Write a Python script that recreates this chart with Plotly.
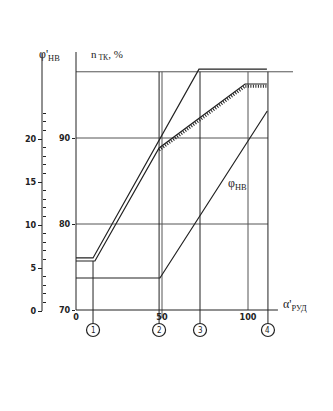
import plotly.graph_objects as go

# ---------------- data ----------------
# throttle lever angle alpha'_RUD, degrees
curveA_alpha = [0, 9.9, 71.5, 111.0]          # n_TK, upper line of the double curve
curveA_n = [76.05, 76.05, 98.0, 98.0]
curveB_alpha = [0, 11.0, 48.3, 98.3, 111.0]   # n_TK, lower (hatched) line
curveB_n = [75.7, 75.7, 88.84, 96.28, 96.28]
hatch_start = 2                               # hatching starts at the bend
phi_alpha = [0, 48.8, 111.2]                  # phi_NV curve (left axis)
phi_vals = [3.84, 3.84, 23.26]

x_ticks = [0, 50, 100]
n_ticks = [70, 80, 90]
phi_major = [0, 5, 10, 15, 20]
phi_minor = [v for v in range(1, 24) if v % 5 != 0]

grid_n = [80, 90]            # horizontal grid levels
top_n = 97.7                 # top horizontal line
marker_alpha = [9.9, 48.3, 72.1, 111.6]   # regimes 1..4
marker_labels = ["1", "2", "3", "4"]
marker_start_n = [75.7, top_n, top_n, top_n]
grid_alpha = [50, 100]       # extra vertical grid lines
x_max, n_max, phi_max = 117.4, 100.0, 30.0

# ---------------- layout geometry ----------------
W, H = 333, 411
px_x0, px_per_a = 76.0, 1.72       # alpha = 0 at pixel 76
px_y70, px_per_n = 310.0, 8.6      # n = 70 at pixel 310
px_phi0 = 311.0

def a_at(px):
    return (px - px_x0) / px_per_a

def n_at(py):
    return 70 + (px_y70 - py) / px_per_n

def phi_at(py):
    return (px_phi0 - py) / px_per_n

ink = "#222222"
grid_col = "#555555"
circle_n = n_at(330)
circle_top = n_at(324)
narrow = "Liberation Sans Narrow, DejaVu Sans Condensed, Liberation Sans"

fig = go.Figure()

# grid / reference lines
for lvl in grid_n:
    fig.add_trace(go.Scatter(x=[0, marker_alpha[-1]], y=[lvl, lvl], mode="lines",
                             line=dict(color=grid_col, width=1), hoverinfo="skip", showlegend=False))
fig.add_trace(go.Scatter(x=[0, a_at(293)], y=[top_n, top_n], mode="lines",
                         line=dict(color=grid_col, width=1), hoverinfo="skip", showlegend=False))
for ga in grid_alpha:
    fig.add_trace(go.Scatter(x=[ga, ga], y=[top_n, 70 if ga == 100 else n_at(318)], mode="lines",
                             line=dict(color=grid_col, width=1), hoverinfo="skip", showlegend=False))
for ma, ms in zip(marker_alpha, marker_start_n):
    fig.add_trace(go.Scatter(x=[ma, ma], y=[ms, circle_top], mode="lines",
                             line=dict(color=ink, width=1), hoverinfo="skip", showlegend=False))

# axes lines
fig.add_trace(go.Scatter(x=[0, 0], y=[70, n_max], mode="lines",
                         line=dict(color=ink, width=1), hoverinfo="skip", showlegend=False))
fig.add_trace(go.Scatter(x=[0, x_max], y=[70, 70], mode="lines",
                         line=dict(color=ink, width=1), hoverinfo="skip", showlegend=False))
fig.add_shape(type="line", xref="paper", yref="y2", x0=42 / W, x1=42 / W, y0=0, y1=phi_max,
              line=dict(color=ink, width=1))

# curves
fig.add_trace(go.Scatter(x=curveA_alpha, y=curveA_n, mode="lines",
                         line=dict(color=ink, width=1.2), showlegend=False))
fig.add_trace(go.Scatter(x=curveB_alpha, y=curveB_n, mode="lines",
                         line=dict(color=ink, width=1.2), showlegend=False))
fig.add_trace(go.Scatter(x=curveB_alpha[hatch_start:],
                         y=[v - 0.25 for v in curveB_n[hatch_start:]], mode="lines",
                         line=dict(color=ink, width=3, dash="1px,1.5px"), hoverinfo="skip",
                         showlegend=False))
fig.add_trace(go.Scatter(x=phi_alpha, y=phi_vals, yaxis="y2", mode="lines",
                         line=dict(color=ink, width=1.2), showlegend=False))

# regime circles
fig.add_trace(go.Scatter(x=marker_alpha, y=[circle_n] * len(marker_alpha), mode="markers",
                         marker=dict(symbol="circle", size=13, color="white",
                                     line=dict(color=ink, width=1.2)),
                         hoverinfo="skip", showlegend=False))
for ma, lab in zip(marker_alpha, marker_labels):
    fig.add_annotation(x=ma, y=circle_n, xref="x", yref="y", text=lab, showarrow=False,
                       font=dict(size=8, color=ink, family=narrow))

tick_font = dict(size=9, color=ink, family=narrow, weight="bold")

fig.update_layout(
    width=W, height=H, margin=dict(l=0, r=0, t=0, b=0),
    paper_bgcolor="white", plot_bgcolor="white",
    xaxis=dict(domain=[0, 1], range=[a_at(0), a_at(W)], showgrid=False, zeroline=False,
               showline=False, tickmode="array", tickvals=x_ticks,
               ticktext=[str(v) for v in x_ticks], ticks="", tickfont=tick_font,
               anchor="free", position=1 - px_y70 / H, fixedrange=True),
    yaxis=dict(domain=[0, 1], range=[n_at(H), n_at(0)], showgrid=False, zeroline=False,
               showline=False, tickmode="array", tickvals=n_ticks,
               ticktext=[str(v) for v in n_ticks], ticks="outside", ticklen=3,
               tickcolor=ink, tickfont=tick_font, anchor="free", position=75 / W,
               fixedrange=True),
    yaxis2=dict(overlaying="y", range=[phi_at(H), phi_at(0)], showgrid=False, zeroline=False,
                showline=False, tickmode="array", tickvals=phi_major,
                ticktext=[str(v) for v in phi_major], ticks="outside", ticklen=4,
                tickcolor=ink, tickfont=tick_font, anchor="free", position=42 / W,
                side="left",
                minor=dict(tickmode="array", tickvals=phi_minor, ticks="inside", ticklen=3,
                           tickcolor=ink, showgrid=False),
                fixedrange=True),
    showlegend=False,
)

lab_font = dict(size=12, color=ink, family="Liberation Serif, DejaVu Serif")
fig.add_annotation(xref="paper", yref="paper", x=37 / W, y=1 - 45 / H, text="φ'<sub>НВ</sub>",
                   showarrow=False, font=lab_font)
fig.add_annotation(xref="paper", yref="paper", x=89 / W, y=1 - 46 / H, text="n<sub> ТК</sub>, %",
                   showarrow=False, font=dict(size=11, color=ink, family="Liberation Serif, DejaVu Serif"))
fig.add_annotation(xref="paper", yref="paper", x=309 / W, y=1 - 315 / H, text="α'<sub>РУД</sub>",
                   showarrow=False, font=lab_font)
fig.add_annotation(xref="x", yref="y2", x=a_at(237), y=phi_at(184), text="φ<sub>НВ</sub>",
                   showarrow=False, font=lab_font)

fig.write_html("out.html")
